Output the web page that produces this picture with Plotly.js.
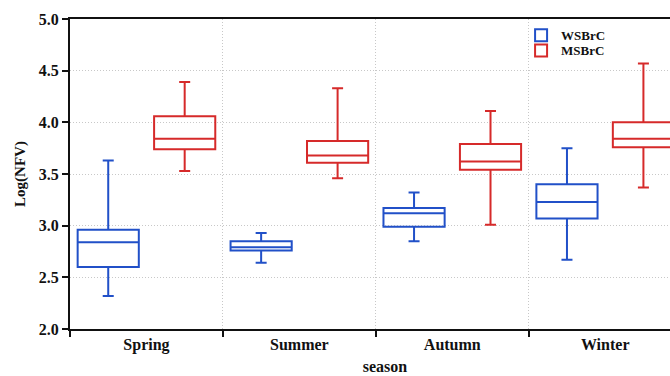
<!DOCTYPE html>
<html><head><meta charset="utf-8">
<script src="https://cdn.plot.ly/plotly-3.0.1.min.js"></script>
<style>html,body{margin:0;background:#fff;overflow:hidden}#wrap{width:670px;height:376px;overflow:hidden}#c{width:700px;height:376px}</style>
</head><body><div id="wrap"><div id="c"></div></div>
<script>
const seasons = ["Spring", "Summer", "Autumn", "Winter"];
// WSBrC
const wsLower  = [2.32, 2.64, 2.85, 2.67];
const wsQ1     = [2.60, 2.76, 2.99, 3.07];
const wsMedian = [2.84, 2.79, 3.12, 3.23];
const wsQ3     = [2.96, 2.85, 3.17, 3.40];
const wsUpper  = [3.63, 2.93, 3.32, 3.75];
// MSBrC
const msLower  = [3.53, 3.46, 3.01, 3.37];
const msQ1     = [3.74, 3.61, 3.54, 3.76];
const msMedian = [3.84, 3.68, 3.62, 3.84];
const msQ3     = [4.06, 3.82, 3.79, 4.00];
const msUpper  = [4.39, 4.33, 4.11, 4.57];

const serif = "Liberation Serif, Times New Roman, serif";
function boxTrace(name, color, lo, q1, med, q3, up, leg) {
  return {
    type: "box", name: name, x: seasons, legend: leg,
    q1: q1, median: med, q3: q3, lowerfence: lo, upperfence: up,
    fillcolor: "rgba(0,0,0,0)", line: {color: color, width: 2},
    whiskerwidth: 0.18, boxpoints: false, hoverinfo: "none"
  };
}
const data = [
  boxTrace("WSBrC", "#2150c8", wsLower, wsQ1, wsMedian, wsQ3, wsUpper, "legend"),
  boxTrace("MSBrC", "#d62a2a", msLower, msQ1, msMedian, msQ3, msUpper, "legend2")
];
const legFont = {family: serif, size: 13, weight: "bold", color: "#111"};
const grid = {showgrid: true, gridcolor: "#c8c8c8", griddash: "1px,2px", gridwidth: 1};
const layout = {
  width: 700, height: 376,
  margin: {l: 70, r: 0, t: 19, b: 47},
  paper_bgcolor: "#fff", plot_bgcolor: "#fff",
  boxmode: "group", boxgap: 0, boxgroupgap: 0.2,
  showlegend: true,
  legend: {x: 0.716, y: 0.996, xanchor: "left", yanchor: "top", bgcolor: "rgba(0,0,0,0)", font: legFont},
  legend2: {x: 0.716, y: 0.947, xanchor: "left", yanchor: "top", bgcolor: "rgba(0,0,0,0)", font: legFont},
  xaxis: Object.assign({
    type: "category", range: [-0.5, 3.62], tickson: "boundaries",
    showline: true, linecolor: "#111", linewidth: 2, mirror: true,
    ticks: "outside", ticklen: 6, tickwidth: 2, tickcolor: "#111",
    tickfont: {family: serif, size: 16, weight: "bold", color: "#111"},
    title: {text: "season", standoff: 8, font: {family: serif, size: 16, weight: "bold", color: "#111"}},
    zeroline: false, fixedrange: true
  }, grid),
  yaxis: Object.assign({
    range: [2, 5], dtick: 0.5, tickformat: ".1f",
    showline: true, linecolor: "#111", linewidth: 2, mirror: false,
    ticks: "outside", ticklen: 6, tickwidth: 2, tickcolor: "#111",
    tickfont: {family: serif, size: 16, weight: "bold", color: "#111"},
    title: {text: "Log(NFV)", standoff: 10, font: {family: serif, size: 15, weight: "bold", color: "#111"}},
    zeroline: false, fixedrange: true
  }, grid)
};
Plotly.newPlot("c", data, layout, {staticPlot: true});
</script></body></html>
